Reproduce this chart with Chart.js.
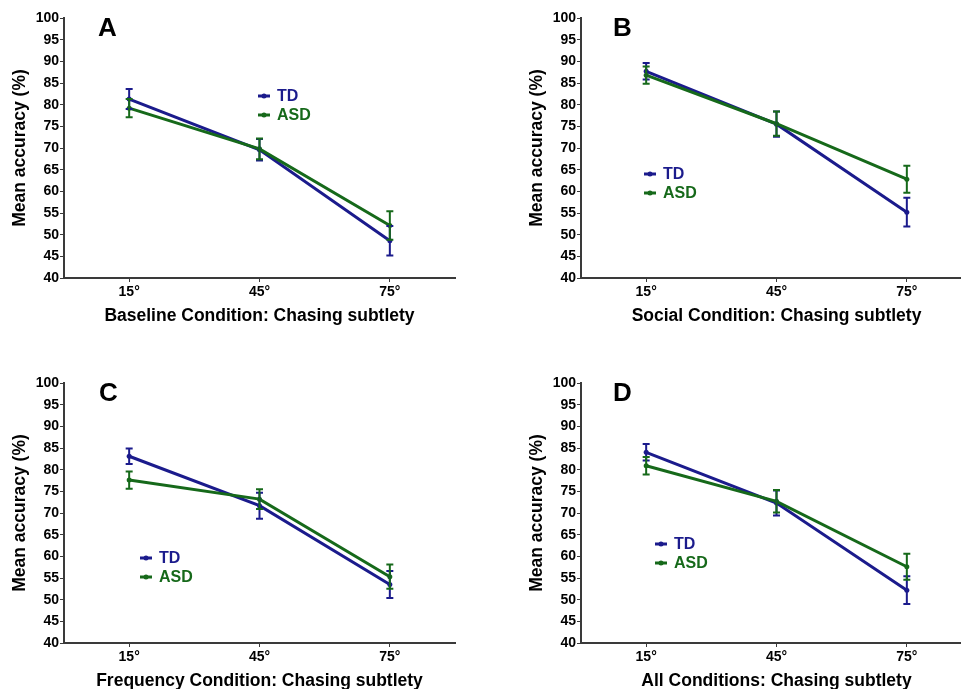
<!DOCTYPE html>
<html>
<head>
<meta charset="utf-8">
<script src="https://cdn.jsdelivr.net/npm/chart.js@4"></script>
<style>
  html, body { margin: 0; padding: 0; background: #fff; overflow: hidden; width: 961px; height: 689px; }
  .panel { position: absolute; }
</style>
</head>
<body>
<canvas id="cA" class="panel" width="490" height="345" style="left:0px;top:0px"></canvas>
<canvas id="cB" class="panel" width="490" height="345" style="left:517px;top:0px"></canvas>
<canvas id="cC" class="panel" width="490" height="345" style="left:0px;top:365px"></canvas>
<canvas id="cD" class="panel" width="490" height="345" style="left:517px;top:365px"></canvas>
<script>
// ---- data ----
const categories = ['15°', '45°', '75°'];
const yTickMin = 40;
const yTickMax = 100;
const yTickStep = 5;
const seriesNames = ['TD', 'ASD'];

const tdBaseline = [81.3, 69.6, 48.6];
const tdBaselineErr = [2.3, 2.5, 3.4];
const asdBaseline = [79.2, 69.8, 52.1];
const asdBaselineErr = [2.1, 2.4, 3.3];

const tdSocial = [87.7, 75.5, 55.2];
const tdSocialErr = [1.9, 2.9, 3.3];
const asdSocial = [86.8, 75.6, 62.8];
const asdSocialErr = [2.0, 2.8, 3.1];

const tdFrequency = [83.1, 71.7, 53.5];
const tdFrequencyErr = [1.8, 3.0, 3.1];
const asdFrequency = [77.6, 73.2, 55.3];
const asdFrequencyErr = [2.0, 2.3, 2.8];

const tdAll = [84.0, 72.3, 52.2];
const tdAllErr = [1.9, 2.9, 3.2];
const asdAll = [80.9, 72.7, 57.6];
const asdAllErr = [2.0, 2.6, 3.0];

const xTitles = [
  'Baseline Condition: Chasing subtlety',
  'Social Condition: Chasing subtlety',
  'Frequency Condition: Chasing subtlety',
  'All Conditions: Chasing subtlety'
];
const yTitle = 'Mean accuracy (%)';
const letters = ['A', 'B', 'C', 'D'];

// ---- styles ----
const TD_COLOR = '#1b1b8c';
const ASD_COLOR = '#16691a';
const AXIS_COLOR = '#3a3a3a';
const FONT = "'Liberation Sans', Arial, sans-serif";

const errorBarPlugin = {
  id: 'errorBars',
  afterDatasetsDraw(chart) {
    const ctx = chart.ctx;
    const y = chart.scales.y;
    const metas = chart.getSortedVisibleDatasetMetas().slice().reverse();
    metas.forEach(meta => {
      const ds = chart.data.datasets[meta.index];
      const errs = ds.errors || [];
      ctx.save();
      ctx.strokeStyle = ds.borderColor;
      ctx.lineWidth = 2;
      meta.data.forEach((pt, i) => {
        const v = ds.data[i];
        const e = errs[i] || 0;
        const yTop = y.getPixelForValue(v + e);
        const yBot = y.getPixelForValue(v - e);
        const x = pt.x;
        ctx.beginPath();
        ctx.moveTo(x, yTop); ctx.lineTo(x, yBot);
        ctx.moveTo(x - 3.5, yTop); ctx.lineTo(x + 3.5, yTop);
        ctx.moveTo(x - 3.5, yBot); ctx.lineTo(x + 3.5, yBot);
        ctx.stroke();
      });
      ctx.restore();
    });
  }
};

const decoPlugin = {
  id: 'panelDeco',
  afterDraw(chart, args, opts) {
    const ctx = chart.ctx;
    const area = chart.chartArea;
    ctx.save();
    // panel letter
    ctx.fillStyle = '#000';
    ctx.font = "bold 26px " + FONT;
    ctx.textBaseline = 'middle';
    ctx.textAlign = 'left';
    ctx.fillText(opts.letter, area.left + opts.letterDx, area.top + 11);
    // legend
    const items = chart.data.datasets.map(d => ({ label: d.label, color: d.borderColor }));
    items.forEach((it, k) => {
      const lx = area.left + opts.legendDx;
      const ly = area.top + opts.legendDy + k * 19;
      ctx.strokeStyle = it.color;
      ctx.lineWidth = 3;
      ctx.beginPath();
      ctx.moveTo(lx, ly); ctx.lineTo(lx + 12, ly);
      ctx.stroke();
      ctx.fillStyle = it.color;
      ctx.beginPath();
      ctx.arc(lx + 6, ly, 2.5, 0, Math.PI * 2);
      ctx.fill();
      ctx.font = "bold 16px " + FONT;
      ctx.textBaseline = 'middle';
      ctx.fillText(it.label, lx + 19, ly + 1);
    });
    ctx.restore();
  }
};

function makeChart(id, idx, td, tdErr, asd, asdErr, deco) {
  return new Chart(document.getElementById(id), {
    type: 'line',
    data: {
      labels: categories,
      datasets: [
        { label: seriesNames[0], data: td, errors: tdErr, borderColor: TD_COLOR, backgroundColor: TD_COLOR,
          borderWidth: 3, pointRadius: 2.5, pointBackgroundColor: TD_COLOR, pointBorderWidth: 0, tension: 0, order: 1 },
        { label: seriesNames[1], data: asd, errors: asdErr, borderColor: ASD_COLOR, backgroundColor: ASD_COLOR,
          borderWidth: 3, pointRadius: 2.5, pointBackgroundColor: ASD_COLOR, pointBorderWidth: 0, tension: 0, order: 0 }
      ]
    },
    options: {
      responsive: false,
      animation: false,
      devicePixelRatio: 1,
      layout: { padding: { top: 18, right: 35, bottom: 0, left: 0 } },
      plugins: {
        legend: { display: false },
        tooltip: { enabled: false },
        panelDeco: Object.assign({ letter: letters[idx] }, deco)
      },
      scales: {
        x: {
          type: 'category',
          offset: true,
          grid: { display: true, drawOnChartArea: false, drawTicks: true, tickLength: 4, color: AXIS_COLOR, lineWidth: 1 },
          border: { display: true, color: AXIS_COLOR, width: 2 },
          ticks: { color: '#000', font: { family: FONT, weight: 'bold', size: 14 }, padding: 2, maxRotation: 0 },
          title: { display: true, text: xTitles[idx], color: '#000', font: { family: FONT, weight: 'bold', size: 17.5 }, padding: { top: 4, bottom: 18 } },
          afterFit(s) { s.height = 67; }
        },
        y: {
          min: yTickMin, max: yTickMax,
          grid: { display: true, drawOnChartArea: false, drawTicks: true, tickLength: 4, color: AXIS_COLOR, lineWidth: 1 },
          border: { display: true, color: AXIS_COLOR, width: 2 },
          ticks: { stepSize: yTickStep, color: '#000', font: { family: FONT, weight: 'bold', size: 14 }, padding: 1 },
          title: { display: true, text: yTitle, color: '#000', font: { family: FONT, weight: 'bold', size: 17.5 }, padding: { top: 10, bottom: 0 } },
          afterFit(s) { s.width = 64; }
        }
      }
    },
    plugins: [errorBarPlugin, decoPlugin]
  });
}

makeChart('cA', 0, tdBaseline, tdBaselineErr, asdBaseline, asdBaselineErr, { letterDx: 34, legendDx: 194, legendDy: 78 });
makeChart('cB', 1, tdSocial, tdSocialErr, asdSocial, asdSocialErr, { letterDx: 32, legendDx: 63, legendDy: 156 });
makeChart('cC', 2, tdFrequency, tdFrequencyErr, asdFrequency, asdFrequencyErr, { letterDx: 35, legendDx: 76, legendDy: 175 });
makeChart('cD', 3, tdAll, tdAllErr, asdAll, asdAllErr, { letterDx: 32, legendDx: 74, legendDy: 161 });
</script>
</body>
</html>
